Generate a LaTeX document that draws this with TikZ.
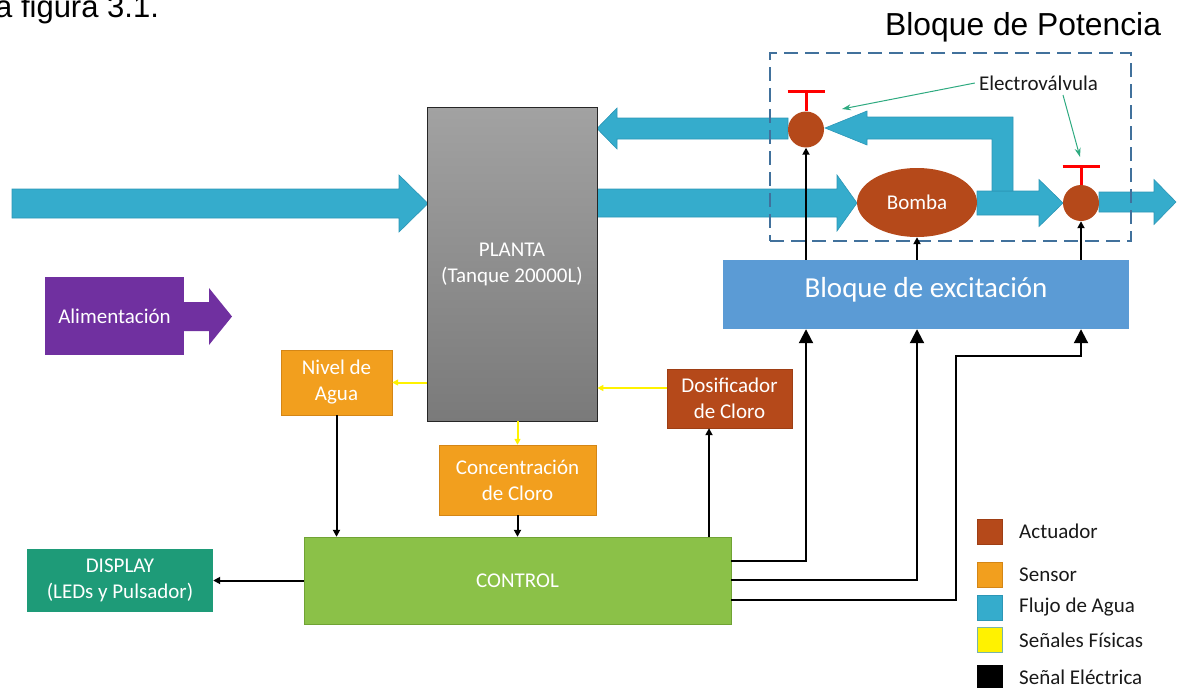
\documentclass[tikz,border=0pt]{standalone}
\usepackage{fontspec}
\setmainfont{Carlito}
\newfontfamily\headfont{Liberation Sans}
\usetikzlibrary{arrows.meta,shapes.geometric}

\definecolor{flow}{RGB}{53,172,204}
\definecolor{flowedge}{RGB}{44,150,182}
\definecolor{actuator}{RGB}{181,73,26}
\definecolor{actedge}{RGB}{158,62,20}
\definecolor{sensor}{RGB}{242,159,30}
\definecolor{sensedge}{RGB}{212,134,22}
\definecolor{excit}{RGB}{91,155,213}
\definecolor{ctrl}{RGB}{139,193,72}
\definecolor{ctrledge}{RGB}{112,163,52}
\definecolor{disp}{RGB}{30,155,120}
\definecolor{power}{RGB}{112,48,160}
\definecolor{frame}{RGB}{65,113,156}
\definecolor{note}{RGB}{46,170,128}
\definecolor{tanktop}{RGB}{162,162,162}
\definecolor{tankbot}{RGB}{122,122,122}
\definecolor{yedge}{RGB}{120,180,170}

\tikzset{
  lbl/.style={font=\fontsize{21}{26}\selectfont, text=white, align=center},
  block/.style={lbl, rectangle, inner sep=0pt},
  flowshape/.style={fill=flow, draw=flowedge, line width=0.6pt},
  sig/.style={line width=2pt, -{Triangle[length=7pt,width=7pt]}},
  bigsig/.style={line width=2pt, -{Triangle[length=14pt,width=14pt]}},
  phys/.style={yellow, line width=2pt, -{Triangle[length=6pt,width=6pt]}},
  notearrow/.style={draw=note, line width=1pt, -{Stealth[length=9pt,width=6pt]}},
  stem/.style={red, line width=3pt},
  valve/.style={circle, fill=actuator, minimum size=36pt, inner sep=0pt},
  legbox/.style={minimum size=25pt, inner sep=0pt, line width=1pt},
  legtext/.style={font=\fontsize{21}{26}\selectfont, anchor=west, inner sep=0pt, text=black!90},
}

% horizontal fat arrow: x start, x tip, y axis, half body, half head, head length
\newcommand\hflow[6]{%
  \filldraw[flowshape] (#1,{#3-#4}) -- ({#2-#6},{#3-#4}) -- ({#2-#6},{#3-#5})
    -- (#2,#3) -- ({#2-#6},{#3+#5}) -- ({#2-#6},{#3+#4}) -- (#1,{#3+#4}) -- cycle;}

\begin{document}
\begin{tikzpicture}[x=1pt,y=-1pt]
\useasboundingbox (0,0) rectangle (1181,688);

% headings
\node[font=\headfont\fontsize{31}{36}\selectfont, anchor=base west, inner sep=0pt] (refline) at (-5,17) {a figura 3.1.};
\node[font=\headfont\fontsize{31.8}{37}\selectfont, anchor=base west, inner sep=0pt] (title) at (885,35) {Bloque de Potencia};

% water flow
\hflow{12}{428}{203.5}{14.5}{28.5}{29}
\hflow{597}{857}{203}{14}{28}{20}
\hflow{977}{1063}{203}{12}{23.5}{24}
\hflow{1099}{1176}{202}{10}{22.5}{22}
\hflow{788}{597}{128.5}{10.5}{20.5}{-20}
\filldraw[flowshape] (1013,191) -- (1013,117) -- (867,117) -- (867,111) -- (825,128)
  -- (867,145) -- (867,139) -- (992,139) -- (992,191) -- cycle;

% main blocks
\node[block, top color=tanktop, bottom color=tankbot, draw=black!85, line width=0.8pt,
      minimum width=170pt, minimum height=314pt] (planta) at (512,264) {PLANTA\\(Tanque 20000L)};
\node[block, fill=sensor, draw=sensedge, minimum width=111pt, minimum height=65pt] (nivel) at (336.5,382.5) {Nivel de\\Agua};
\node[block, fill=sensor, draw=sensedge, minimum width=157pt, minimum height=70pt] (conc) at (517.5,480) {Concentración\\de Cloro};
\node[block, fill=actuator, draw=actedge, minimum width=125pt, minimum height=59pt] (dosif) at (729.5,398.5) {Dosificador\\de Cloro};
\node[block, fill=disp, minimum width=186pt, minimum height=63pt] (display) at (120,580.5) {DISPLAY\\(LEDs y Pulsador)};
\node[block, fill=ctrl, draw=ctrledge, minimum width=427pt, minimum height=87pt] (control) at (517.5,580.5) {CONTROL};
\node[block, fill=excit, minimum width=406pt, minimum height=69pt, font=\fontsize{29}{35}\selectfont] (excit) at (926,294.5) {\raisebox{5pt}[\height][\depth]{Bloque de excitación}};

% power supply
\fill[power] (184,302) -- (209,302) -- (209,288) -- (232,316.5) -- (209,345) -- (209,331) -- (184,331) -- cycle;
\node[block, fill=power, minimum width=139pt, minimum height=78pt] (alim) at (114.5,316) {Alimentación};

% valves and pump
\node[valve] (valve1) at (806,129.5) {};
\node[valve] (valve2) at (1081,203) {};
\node[ellipse, fill=actuator, minimum width=120pt, minimum height=69pt, inner sep=0pt, lbl] (bomba) at (917,202.5) {Bomba};
\draw[stem] (valve1.north) -- ++(0,-19.5) coordinate (s1);
\draw[stem] ([xshift=-18.5pt]s1) -- ([xshift=18.5pt]s1);
\draw[stem] (valve2.north) -- ++(0,-18) coordinate (s2);
\draw[stem] ([xshift=-18.5pt]s2) -- ([xshift=18.5pt]s2);

% power block frame
\node[draw=frame, line width=2.5pt, dash pattern=on 14pt off 7pt, minimum width=361pt, minimum height=188pt, inner sep=0pt] (potencia) at (950.5,147) {};

% valve annotation
\node[font=\fontsize{21}{26}\selectfont, text=black!90, inner sep=0pt] (evlabel) at (1038.5,83) {Electroválvula};
\coordinate (ev1) at (842,109);
\coordinate (ev2from) at (1063,95);
\coordinate (ev2) at (1080,157);
\draw[notearrow] ([xshift=-4pt]evlabel.west) -- (ev1);
\draw[notearrow] (ev2from) -- (ev2);

% excitation to actuators
\draw[sig] (excit.north -| valve1) -- (valve1.south);
\draw[sig] (excit.north -| bomba) -- (bomba.south);
\draw[sig] (excit.north -| valve2) -- (valve2.south);

% control to excitation
\draw[bigsig] ([yshift=19.5pt]control.east) -| (excit.south -| valve1);
\draw[bigsig] ([yshift=0.5pt]control.east) -| (excit.south -| bomba);
\draw[bigsig] ([yshift=-19.5pt]control.east) -- ++(225,0) -- ++(0,-244) -| (excit.south -| valve2);

% sensors, dosing and display
\coordinate (dosifin) at ([xshift=-20.5pt]dosif.south);
\draw[sig] (nivel.south) -- (nivel.south |- control.north);
\draw[sig] (conc.south) -- (conc.south |- control.north);
\draw[sig] (control.north -| dosifin) -- (dosifin);
\draw[sig] (control.west) -- (display.east);

% physical signals
\coordinate (dosifout) at ([yshift=10.5pt]dosif.west);
\draw[phys] (planta.west |- nivel.east) -- (nivel.east);
\draw[phys] (dosifout) -- (planta.east |- dosifout);
\draw[phys] (planta.south -| conc.north) -- (conc.north);

% legend
\foreach \n/\y/\c/\e/\t in {a/531.5/actuator/actedge/Actuador,
                            s/574.5/sensor/sensedge/Sensor,
                            f/607.5/flow/flowedge/Flujo de Agua,
                            y/640/yellow/yedge/Señales Físicas,
                            e/677.5/black/black/Señal Eléctrica}{
  \node[legbox, fill=\c, draw=\e] (leg\n) at (989.5,\y) {};
  \node[legtext] (legt\n) at (1019,\y) {\t};
}
\end{tikzpicture}
\end{document}
